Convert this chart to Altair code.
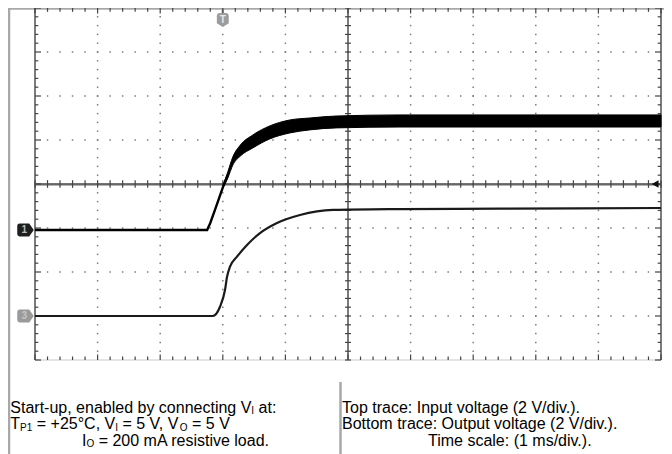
import altair as alt
import pandas as pd

# ---------------- data ----------------
# time in ms relative to trigger (1 ms/div), voltages in V (2 V/div)
VOLTS_PER_DIV = 2.0
CH1_OFFSET_DIV = -1.045   # ground level of channel 1 (input)
CH3_OFFSET_DIV = -3.0     # ground level of channel 3 (output)

in_time = [-3.0, -0.25, -0.20, -0.125, 0.02, 0.08]
in_volt = [0.0, 0.0, 0.32, 0.91, 2.09, 2.5]

band_time = [0.02, 0.08, 0.16, 0.28, 0.48, 0.75, 1.07, 1.39, 1.81, 2.83, 4.43, 7.0]
band_high = [2.14, 2.64, 3.32, 3.86, 4.32, 4.73, 5.00, 5.09, 5.18, 5.23, 5.23, 5.23]
band_low = [2.00, 2.36, 2.95, 3.36, 3.73, 4.14, 4.41, 4.55, 4.64, 4.68, 4.68, 4.68]

out_time = [-3.0, -0.16, -0.045, 0.035, 0.067, 0.115, 0.227, 0.387, 0.594, 0.866,
            1.233, 1.76, 2.83, 4.43, 7.0]
out_volt = [0.0, 0.0, 0.42, 1.18, 1.77, 2.24, 2.70, 3.23, 3.77, 4.23,
            4.59, 4.82, 4.86, 4.88, 4.91]

caption_left = [
    [("Start-up, enabled by connecting V", "n"), ("I", "s"), (" at:", "n")],
    [("T", "n"), ("P1", "s"), (" = +25°C, V", "n"), ("I", "s"), (" = 5 V, V", "n"),
     ("O", "s"), (" = 5 V", "n")],
    [("I", "n"), ("O", "s"), (" = 200 mA resistive load.", "n")],
]
caption_right = [
    [("Top trace: Input voltage (2 V/div.).", "n")],
    [("Bottom trace: Output voltage (2 V/div.).", "n")],
    [("Time scale: (1 ms/div.).", "n")],
]

# ---------------- layout ----------------
W_PX, H_PX = 656, 446
X_RANGE = [27, 653]
Y_RANGE = [352, 0]
T_MIN, T_MAX = -3.0, 7.0
D_MIN, D_MAX = -4.0, 4.0
PXX = (X_RANGE[1] - X_RANGE[0]) / (T_MAX - T_MIN)
PXY = (Y_RANGE[0] - Y_RANGE[1]) / (D_MAX - D_MIN)


def t_of(px):
    return T_MIN + (px - X_RANGE[0]) / PXX


def d_of(py):
    return D_MAX - (py - Y_RANGE[1]) / PXY


XS = alt.Scale(domain=[T_MIN, T_MAX], range=X_RANGE, zero=False, nice=False)
YS = alt.Scale(domain=[D_MIN, D_MAX], range=Y_RANGE, zero=False, nice=False)


def X(f):
    return alt.X(f, type="quantitative", scale=XS, axis=None)


def Y(f):
    return alt.Y(f, type="quantitative", scale=YS, axis=None)


def segs(rows):
    return pd.DataFrame(rows, columns=["t", "t2", "d", "d2"])


def rule_layer(df, color, width):
    return alt.Chart(df).mark_rule(color=color, strokeWidth=width).encode(
        x=X("t"), x2=alt.X2("t2"), y=Y("d"), y2=alt.Y2("d2"))


# grid dots
dots = []
for tg in [-2, -1, 0, 1, 3, 4, 5, 6]:
    for k in range(1, 40):
        dots.append((tg, -4 + 0.2 * k))
for dg in [-3, -2, -1, 1, 2, 3]:
    for k in range(1, 50):
        dots.append((-3 + 0.2 * k, dg))
dots_df = pd.DataFrame(dots, columns=["t", "d"])

# ticks
tx = 3.0 / PXX
ty = 3.5 / PXY
ticks = []
for k in range(0, 51):
    t = -3 + 0.2 * k
    ticks.append((t, t, -ty * 1.1, ty * 1.1))          # centre horizontal axis
    ticks.append((t, t, 4, 4 - ty * (1.6 if k % 5 == 0 else 1.1)))  # top edge
    ticks.append((t, t, -4, -4 + ty * (1.6 if k % 5 == 0 else 1.0)))  # bottom edge
for k in range(0, 41):
    d = -4 + 0.2 * k
    ticks.append((2 - tx, 2 + tx, d, d))                # centre vertical axis
    ext = 2.0 if k % 5 == 0 else 1.1
    ticks.append((-3, -3 + tx * ext, d, d))             # left edge
    ticks.append((7, 7 - tx * ext, d, d))               # right edge
ticks_df = segs(ticks)

axes_df = segs([
    (-3, 7, 0, 0),
    (2, 2, -4, 4),
    (-3, -3, -4, 4),
    (7, 7, -4, 4),
])
axes_shadow_df = segs([(-3, 7, -0.025, -0.025)])
bottom_df = segs([(-3, 7, -4, -4)])

border_df = segs([
    (t_of(1.0), t_of(1.0), d_of(0), d_of(H_PX)),
    (t_of(0), t_of(W_PX), d_of(0.6), d_of(0.6)),
    (t_of(332.5), t_of(332.5), d_of(374), d_of(H_PX)),
    (0, 0, 4, d_of(12)),
])

# traces
in_df = pd.DataFrame({"t": in_time, "v": in_volt})
in_df["d"] = CH1_OFFSET_DIV + in_df["v"] / VOLTS_PER_DIV
band_df = pd.DataFrame({"t": band_time, "hi": band_high, "lo": band_low})
band_df["dhi"] = CH1_OFFSET_DIV + band_df["hi"] / VOLTS_PER_DIV
band_df["dlo"] = CH1_OFFSET_DIV + band_df["lo"] / VOLTS_PER_DIV
out_df = pd.DataFrame({"t": out_time, "v": out_volt})
out_df["d"] = CH3_OFFSET_DIV + out_df["v"] / VOLTS_PER_DIV

# ---------------- text layout (Arial / Liberation Sans metrics) ----------------
AW = {" ": 278, "(": 333, ")": 333, "+": 584, ",": 278, "-": 333, ".": 278, "/": 278,
      ":": 278, "=": 584, "°": 400, "A": 667, "B": 667, "C": 722, "I": 278, "O": 778,
      "P": 667, "S": 667, "T": 611, "V": 667, "a": 556, "b": 556, "c": 500, "d": 556,
      "e": 556, "g": 556, "i": 222, "l": 222, "m": 833, "n": 556, "o": 556, "p": 556,
      "r": 333, "s": 500, "t": 278, "u": 556, "v": 500, "y": 500}
for ch in "0123456789":
    AW[ch] = 556
FS_N, FS_S = 16, 10


def width(s, fs):
    return sum(AW.get(c, 556) for c in s) * fs / 1000.0


text_rows = []


def lay(line, x0, base):
    x = x0
    for s, kind in line:
        fs = FS_N if kind == "n" else FS_S
        lead = len(s) - len(s.lstrip(" "))
        xs = x + width(" " * lead, fs)
        py = base + (1.5 if kind == "s" else 0)
        text_rows.append((t_of(xs), d_of(py), s.lstrip(" "), kind))
        x += width(s, fs)


bases = [412.5 - 8, 429 - 8, 445.5 - 8]
lay(caption_left[0], 10.3 - 8, bases[0])
lay(caption_left[1], 10.3 - 8, bases[1])
lay(caption_left[2], 82 - 8, bases[2])
lay(caption_right[0], 342 - 8, bases[0])
lay(caption_right[1], 342 - 8, bases[1])
lay(caption_right[2], 428 - 8, bases[2])
text_df = pd.DataFrame(text_rows, columns=["t", "d", "txt", "kind"])

FONT = "Liberation Sans"

layers = [
    rule_layer(border_df, "#a8a8a8", 2.5),
    alt.Chart(dots_df).mark_square(size=2.2, color="#7a7a7a", opacity=1, filled=True).encode(
        x=X("t"), y=Y("d")),
    rule_layer(bottom_df, "#c8c8c8", 1),
    rule_layer(axes_shadow_df, "#9a9a9a", 1.2),
    rule_layer(axes_df, "#444", 1.4),
    rule_layer(ticks_df, "#444", 1.2),
    # input voltage (channel 1)
    alt.Chart(in_df).mark_line(color="#000", strokeWidth=2.4).encode(x=X("t"), y=Y("d")),
    alt.Chart(band_df).mark_area(color="#000", interpolate="monotone", opacity=1,
                                 stroke="#000", strokeWidth=1).encode(
        x=X("t"), y=Y("dhi"), y2=alt.Y2("dlo")),
    # output voltage (channel 3)
    alt.Chart(out_df).mark_line(color="#1a1a1a", strokeWidth=2.2,
                                interpolate="monotone").encode(x=X("t"), y=Y("d")),
]

ch_shape = ("M-0.7,-0.8 L0.45,-0.8 L1,0 L0.45,0.8 L-0.7,0.8 Q-1,0.8 -1,0.5 "
            "L-1,-0.5 Q-1,-0.8 -0.7,-0.8 Z")
trig_shape = ("M-0.85,-0.55 Q-0.85,-1 -0.4,-1 L0.4,-1 Q0.85,-1 0.85,-0.55 "
              "L0.85,0.45 L0,1 L-0.85,0.45 Z")
tri_shape = "M-1,0 L0.6,-0.9 L0.6,0.9 Z"

mk_t = t_of(25.5 - 8)
marker_df = pd.DataFrame({"a": [0]})


def marker(t, d, shape, size, color):
    return alt.Chart(marker_df).mark_point(shape=shape, size=size, filled=True,
                                           color=color, opacity=1).encode(
        x=alt.X(datum=t, scale=XS, axis=None), y=alt.Y(datum=d, scale=YS, axis=None))


def mtext(t, d, s, color, fs):
    return alt.Chart(marker_df).mark_text(text=s, color=color, fontSize=fs, font=FONT,
                                          fontWeight="bold", align="center",
                                          baseline="middle").encode(
        x=alt.X(datum=t, scale=XS, axis=None), y=alt.Y(datum=d, scale=YS, axis=None))


layers += [
    marker(mk_t, CH1_OFFSET_DIV, ch_shape, 272, "#1e1e1e"),
    mtext(mk_t - 0.02, CH1_OFFSET_DIV, "1", "#bbbbbb", 10),
    marker(mk_t, CH3_OFFSET_DIV, ch_shape, 272, "#9a9a9a"),
    mtext(mk_t - 0.02, CH3_OFFSET_DIV, "3", "#c4c4c4", 10),
    marker(0, d_of(12), trig_shape, 196, "#9c9c9c"),
    mtext(0, d_of(11.5), "T", "#e8e8e8", 10),
    marker(t_of(648), 0, tri_shape, 72, "#111"),
]

layers += [
    alt.Chart(text_df[text_df.kind == "n"]).mark_text(
        align="left", baseline="alphabetic", font=FONT, fontSize=FS_N, color="#000").encode(
        x=X("t"), y=Y("d"), text="txt:N"),
    alt.Chart(text_df[text_df.kind == "s"]).mark_text(
        align="left", baseline="alphabetic", font=FONT, fontSize=FS_S, color="#000").encode(
        x=X("t"), y=Y("d"), text="txt:N"),
]

chart = alt.layer(*layers).properties(
    width=W_PX, height=H_PX, padding=0,
    autosize=alt.AutoSizeParams(type="none"),
).configure_view(stroke=None).configure(background="white")

chart.save("out.html", embed_options={"renderer": "svg", "actions": False})
